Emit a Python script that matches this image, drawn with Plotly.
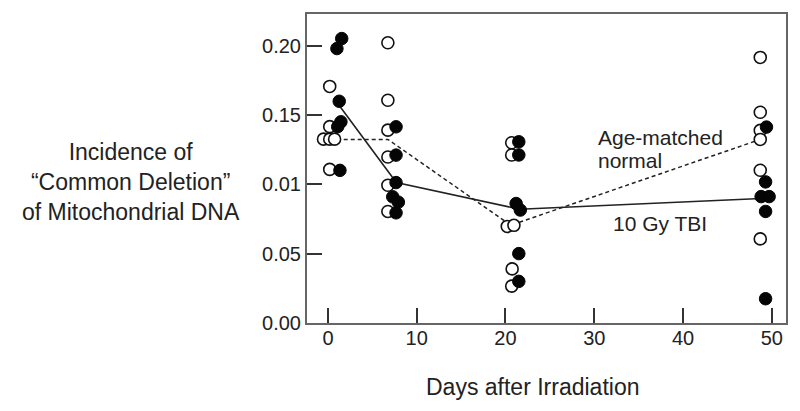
import plotly.graph_objects as go

# Age-matched normal (open circles)
normal_days = [0.2, 0.2, -0.5, 0.2, 0.75, 0.2,
               6.75, 6.75, 6.75, 6.75, 6.75, 6.75,
               20.7, 20.7, 20.2, 20.95, 20.75, 20.7,
               48.7, 48.7, 48.7, 48.7, 48.7, 48.7]
normal_vals = [0.1705, 0.1415, 0.1325, 0.1325, 0.1325, 0.1107,
               0.202, 0.1605, 0.139, 0.1196, 0.0993, 0.0804,
               0.1299, 0.1211, 0.0696, 0.0704, 0.039, 0.0266,
               0.1914, 0.1519, 0.1388, 0.1323, 0.1101, 0.0606]

# 10 Gy TBI (filled circles)
tbi_days = [1.55, 1.01, 1.27, 1.46, 1.1, 1.35,
            7.67, 7.67, 7.67, 7.3, 7.93, 7.67,
            21.5, 21.5, 21.2, 21.67, 21.5, 21.5,
            49.4, 49.3, 48.8, 49.7, 49.3, 49.3]
tbi_vals = [0.205, 0.1978, 0.1598, 0.145, 0.1415, 0.110,
            0.1414, 0.121, 0.1012, 0.0909, 0.0871, 0.0794,
            0.1306, 0.1211, 0.0861, 0.0814, 0.050, 0.030,
            0.1412, 0.1017, 0.0911, 0.0911, 0.0804, 0.0175]

# group means joined by lines
normal_mean_days = [0.2, 6.75, 20.6, 48.7]
normal_mean_vals = [0.1323, 0.1323, 0.0705, 0.1323]
tbi_mean_days = [1.25, 7.7, 21.6, 48.8]
tbi_mean_vals = [0.157, 0.1012, 0.082, 0.0897]

y_ticks = [0.0, 0.05, 0.10, 0.15, 0.20]
y_ticktext = ["0.00", "0.05", "0.01", "0.15", "0.20"]
x_ticks = [0, 10, 20, 30, 40, 50]

FONT = "Liberation Sans, Arial, sans-serif"
TXT = "#222222"

fig = go.Figure()

fig.add_trace(go.Scatter(x=normal_mean_days, y=normal_mean_vals, mode="lines",
                         line=dict(color="#222", width=1.5, dash="4px,3px"),
                         hoverinfo="skip"))
fig.add_trace(go.Scatter(x=tbi_mean_days, y=tbi_mean_vals, mode="lines",
                         line=dict(color="#222", width=1.6), hoverinfo="skip"))
fig.add_trace(go.Scatter(x=normal_days, y=normal_vals, mode="markers",
                         marker=dict(size=12, color="white",
                                     line=dict(color="#111", width=1.6))))
fig.add_trace(go.Scatter(x=tbi_days, y=tbi_vals, mode="markers",
                         marker=dict(size=12.5, color="#050505",
                                     line=dict(color="#050505", width=1))))

# in-plot labels
lab_font = dict(size=21, color=TXT, family=FONT)
fig.add_annotation(x=30.2, y=0.1338, text="Age-matched", xanchor="left",
                   showarrow=False, font=lab_font)
fig.add_annotation(x=30.2, y=0.117, text="normal", xanchor="left",
                   showarrow=False, font=lab_font)
fig.add_annotation(x=31.9, y=0.0716, text="10 Gy TBI", xanchor="left",
                   showarrow=False, font=lab_font)

# y-axis title as one three-line block
fig.add_annotation(xref="paper", yref="paper", x=-0.3677, y=0.455,
                   text="Incidence of<br>\u201cCommon Deletion\u201d<br>of Mitochondrial DNA",
                   xanchor="center", yanchor="middle", align="center", showarrow=False,
                   font=dict(size=23, color=TXT, family=FONT))

# x-axis title
fig.add_annotation(xref="paper", yref="paper", x=0.4715, y=-0.207,
                   text="Days after Irradiation", xanchor="center", yanchor="middle",
                   showarrow=False, font=dict(size=23, color=TXT, family=FONT))

fig.update_xaxes(range=[-2.36, 51.6], tickvals=x_ticks, ticks="inside", ticklen=15,
                 tickwidth=2, tickcolor="#333", showline=True, linecolor="#666",
                 linewidth=2, mirror=True, showgrid=False, zeroline=False,
                 ticklabelstandoff=-4,
                 tickfont=dict(size=20, color=TXT, family=FONT))
fig.update_yaxes(range=[0, 0.2227], tickvals=y_ticks, ticktext=y_ticktext,
                 ticks="inside", ticklen=15, tickwidth=2, tickcolor="#333",
                 showline=True, linecolor="#666", linewidth=2, mirror=True,
                 showgrid=False, zeroline=False,
                 tickfont=dict(size=20, color=TXT, family=FONT))

# page body adds an 8px margin, so the figure is sized to fit inside it
fig.update_layout(width=784, height=395, showlegend=False,
                  margin=dict(l=299, r=5, t=4, b=80),
                  plot_bgcolor="white", paper_bgcolor="white")

fig.write_html("out.html")
